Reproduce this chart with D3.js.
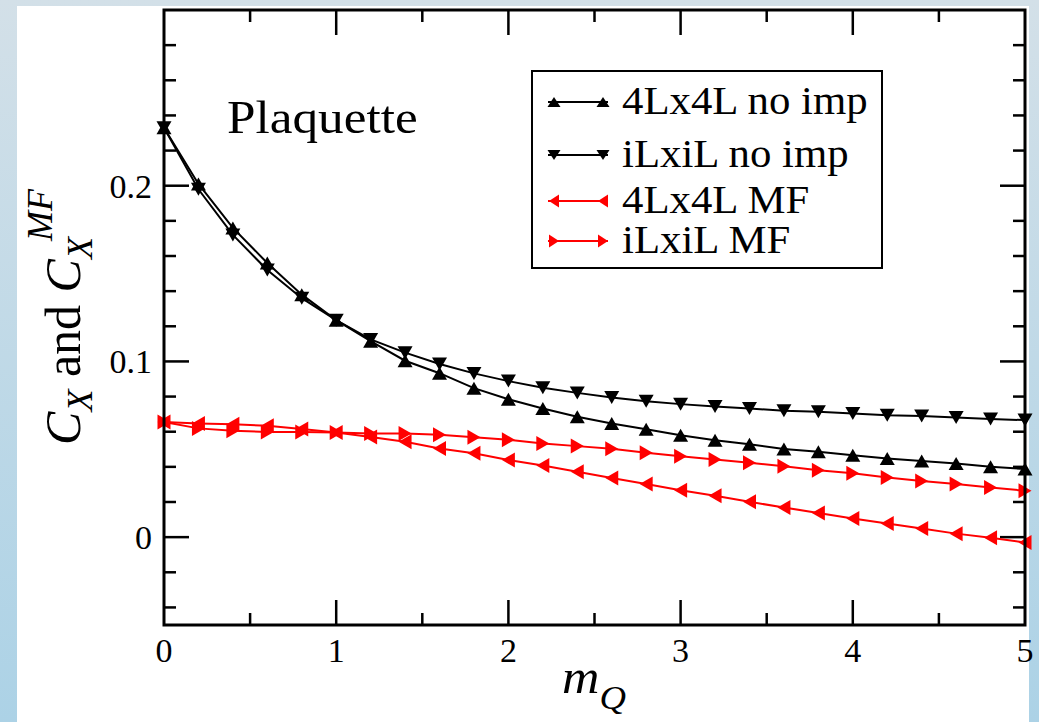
<!DOCTYPE html>
<html lang="en">
<head>
  <meta charset="UTF-8">
  <title>Plaquette C_X</title>
  <script src="https://d3js.org/d3.v7.min.js"></script>
  <style>
    body {
      margin: 0;
      overflow: hidden;
    }

    .frame {
      fill: none;
      stroke: #000;
      stroke-width: 3;
    }

    .tick {
      stroke: #000;
      stroke-width: 2.5;
    }

    .series {
      fill: none;
      stroke-width: 2;
    }
  </style>
</head>
<body>
  <div id="chart"></div>

  <script>
    // m_Q values (x axis)
    const mQ = [0.0, 0.2, 0.4, 0.6, 0.8, 1.0, 1.2, 1.4, 1.6, 1.8, 2.0, 2.2, 2.4,
                2.6, 2.8, 3.0, 3.2, 3.4, 3.6, 3.8, 4.0, 4.2, 4.4, 4.6, 4.8, 5.0];

    // series values
    const cx4LNoImp = [0.233, 0.201, 0.176, 0.156, 0.138, 0.1235, 0.1115, 0.1004, 0.0933, 0.0848,
                       0.0785, 0.0732, 0.0685, 0.0647, 0.0614, 0.058, 0.0552, 0.0529, 0.0501, 0.0486,
                       0.0466, 0.0448, 0.0434, 0.0419, 0.0400, 0.0388];
    const cxiLNoImp = [0.233, 0.198, 0.172, 0.152, 0.136, 0.1235, 0.1125, 0.105, 0.0985, 0.0932,
                       0.0888, 0.085, 0.0821, 0.0795, 0.0774, 0.0757, 0.0744, 0.0732, 0.0719, 0.0713,
                       0.0704, 0.0694, 0.0689, 0.0681, 0.0672, 0.0666];
    const cx4LMF = [0.0655, 0.0647, 0.0643, 0.0634, 0.0615, 0.0596, 0.057, 0.0543, 0.0505, 0.0477,
                    0.0439, 0.0408, 0.0372, 0.0336, 0.0302, 0.0267, 0.0235, 0.0201, 0.0169, 0.0138,
                    0.0106, 0.0078, 0.0049, 0.002, -0.0003, -0.003];
    const cxiLMF = [0.0655, 0.0619, 0.0605, 0.0599, 0.0599, 0.0596, 0.059, 0.059, 0.0583, 0.0568,
                    0.0554, 0.0533, 0.0518, 0.0503, 0.048, 0.0461, 0.0442, 0.0423, 0.0404, 0.0381,
                    0.0363, 0.034, 0.032, 0.0302, 0.0283, 0.0264];

    const seriesNames = ["4Lx4L no imp", "iLxiL no imp", "4Lx4L MF", "iLxiL MF"];
    const seriesColors = ["#000000", "#000000", "#ff0000", "#ff0000"];
    const seriesMarkers = ["up", "down", "left", "right"];

    const xTickLabels = [0, 1, 2, 3, 4, 5];
    const xMinorTicks = [0.5, 1.5, 2.5, 3.5, 4.5];
    const yTickLabels = [0, 0.1, 0.2];
    const yMinorTicks = [-0.04, -0.02, 0.02, 0.04, 0.06, 0.08, 0.12, 0.14, 0.16, 0.18,
                         0.22, 0.24, 0.26, 0.28];

    const serif = "'Liberation Serif', 'DejaVu Serif', serif";

    const W = 1039, H = 722;
    const margin = { top: 10, right: 14, bottom: 97, left: 164 };
    const width = W - margin.left - margin.right;
    const height = H - margin.top - margin.bottom;

    const svgRoot = d3.select("#chart")
      .append("svg")
      .attr("width", W)
      .attr("height", H)
      .attr("font-family", serif);

    // page background: bluish gradient with a white sheet on top
    const grad = svgRoot.append("defs").append("linearGradient")
      .attr("id", "bg")
      .attr("x1", 0).attr("y1", 0).attr("x2", 0).attr("y2", 1);
    grad.append("stop").attr("offset", "0%").attr("stop-color", "#d3e0e8");
    grad.append("stop").attr("offset", "100%").attr("stop-color", "#acd2e6");

    svgRoot.append("rect")
      .attr("width", W).attr("height", H)
      .attr("fill", "url(#bg)");
    svgRoot.append("rect")
      .attr("x", 17).attr("y", 6)
      .attr("width", 1012).attr("height", H - 6)
      .attr("fill", "#fff");

    const svg = svgRoot.append("g")
      .attr("transform", `translate(${margin.left},${margin.top})`);

    const x = d3.scaleLinear().domain([0, 5]).range([0, width]);
    const y = d3.scaleLinear().domain([-0.05, 0.3]).range([height, 0]);

    // ticks on all four sides, pointing inward
    const major = 25, minor = 12;
    function xTicks(vals, len) {
      svg.selectAll(null).data(vals).enter().append("line")
        .attr("class", "tick")
        .attr("x1", d => x(d)).attr("x2", d => x(d))
        .attr("y1", height).attr("y2", height - len);
      svg.selectAll(null).data(vals).enter().append("line")
        .attr("class", "tick")
        .attr("x1", d => x(d)).attr("x2", d => x(d))
        .attr("y1", 0).attr("y2", len);
    }
    function yTicks(vals, len) {
      svg.selectAll(null).data(vals).enter().append("line")
        .attr("class", "tick")
        .attr("y1", d => y(d)).attr("y2", d => y(d))
        .attr("x1", 0).attr("x2", len);
      svg.selectAll(null).data(vals).enter().append("line")
        .attr("class", "tick")
        .attr("y1", d => y(d)).attr("y2", d => y(d))
        .attr("x1", width).attr("x2", width - len);
    }
    xTicks(xTickLabels.slice(1, -1), major);
    xTicks(xMinorTicks, minor);
    yTicks(yTickLabels, major);
    yTicks(yMinorTicks, minor);

    svg.selectAll(".xlab").data(xTickLabels).enter().append("text")
      .attr("class", "xlab")
      .attr("x", d => x(d))
      .attr("y", height + 37)
      .attr("text-anchor", "middle")
      .attr("font-size", 34)
      .text(d => d);

    svg.selectAll(".ylab").data(yTickLabels).enter().append("text")
      .attr("class", "ylab")
      .attr("x", -12)
      .attr("y", d => y(d) + 12)
      .attr("text-anchor", "end")
      .attr("font-size", 34)
      .text(d => d);

    // marker shapes
    function markerPath(kind, a, b) {
      if (kind === "up") return `M0,${-b}L${a},${b}L${-a},${b}Z`;
      if (kind === "down") return `M0,${b}L${a},${-b}L${-a},${-b}Z`;
      if (kind === "left") return `M${-b},0L${b},${-a}L${b},${a}Z`;
      return `M${b},0L${-b},${-a}L${-b},${a}Z`;
    }

    const allSeries = [cx4LNoImp, cxiLNoImp, cx4LMF, cxiLMF];
    const line = d3.line()
      .x((d, i) => x(mQ[i]))
      .y(d => y(d));

    allSeries.forEach((vals, k) => {
      svg.append("path")
        .datum(vals)
        .attr("class", "series")
        .attr("stroke", seriesColors[k])
        .attr("d", line);
      svg.selectAll(null).data(vals).enter().append("path")
        .attr("transform", (d, i) => `translate(${x(mQ[i])},${y(d)})`)
        .attr("d", markerPath(seriesMarkers[k], 7.5, 6.5))
        .attr("fill", seriesColors[k]);
    });

    svg.append("rect")
      .attr("class", "frame")
      .attr("width", width)
      .attr("height", height);

    // "Plaquette" annotation (glyphs a bit wider than plain Times)
    svgRoot.append("text")
      .attr("transform", "translate(227,133) scale(1.09,1)")
      .attr("font-size", 47)
      .text("Plaquette");

    // legend
    const legend = svgRoot.append("g").attr("transform", "translate(532,71)");
    legend.append("rect")
      .attr("width", 350)
      .attr("height", 197)
      .attr("fill", "#fff")
      .attr("stroke", "#000")
      .attr("stroke-width", 2);
    const rowY = [31, 84, 130, 170];
    seriesNames.forEach((name, k) => {
      const g = legend.append("g").attr("transform", `translate(0,${rowY[k]})`);
      g.append("line")
        .attr("x1", 16).attr("x2", 76)
        .attr("stroke", seriesColors[k])
        .attr("stroke-width", 2);
      [22, 71].forEach(mx => {
        g.append("path")
          .attr("transform", `translate(${mx},0)`)
          .attr("d", markerPath(seriesMarkers[k], 6.5, 5))
          .attr("fill", seriesColors[k]);
      });
      g.append("text")
        .attr("transform", "translate(90,12) scale(1.07,1)")
        .attr("font-size", 40)
        .text(name);
    });

    // axis titles
    const xt = svgRoot.append("text")
      .attr("transform", "translate(594,693) scale(1.08,1)")
      .attr("text-anchor", "middle")
      .attr("font-size", 48)
      .attr("font-style", "italic");
    xt.append("tspan").text("m");
    xt.append("tspan").attr("dy", 16).attr("font-size", 34).text("Q");

    const yt = svgRoot.append("text")
      .attr("transform", "translate(80,317) rotate(-90)")
      .attr("text-anchor", "middle")
      .attr("font-size", 50);
    yt.append("tspan").attr("font-style", "italic").text("C");
    yt.append("tspan").attr("dy", 12).attr("font-size", 36).attr("font-style", "italic").text("X");
    yt.append("tspan").attr("dy", -12).text(" and ");
    yt.append("tspan").attr("font-style", "italic").text("C");
    yt.append("tspan").attr("dy", 12).attr("font-size", 36).attr("font-style", "italic").text("X");
    yt.append("tspan").attr("dy", -40).attr("dx", -4).attr("font-size", 36).attr("font-style", "italic").text("MF");
  </script>
</body>
</html>
